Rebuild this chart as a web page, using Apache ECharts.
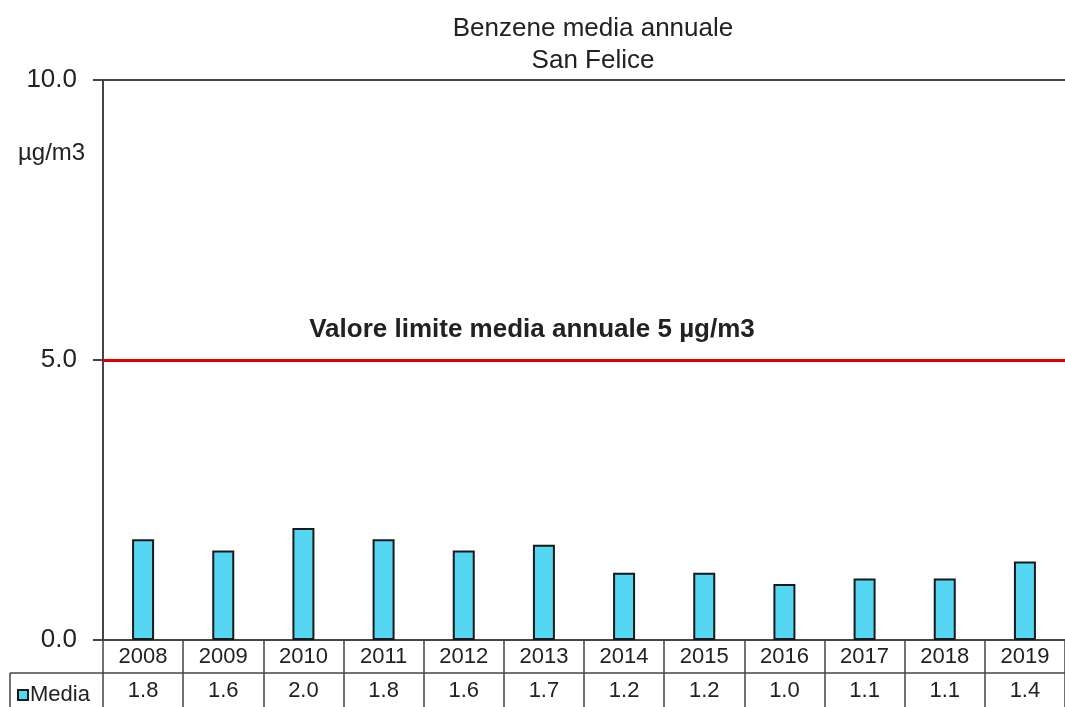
<!DOCTYPE html>
<html>
<head>
<meta charset="utf-8">
<script src="https://cdn.jsdelivr.net/npm/echarts@6/dist/echarts.min.js"></script>
<style>
  html, body { margin: 0; padding: 0; background: #fff; }
  #chart { width: 1065px; height: 707px; }
</style>
</head>
<body>
<div id="chart"></div>
<script>
    'use strict';

    const years = ['2008', '2009', '2010', '2011', '2012', '2013', '2014', '2015', '2016', '2017', '2018', '2019']
    const media = [1.8, 1.6, 2.0, 1.8, 1.6, 1.7, 1.2, 1.2, 1.0, 1.1, 1.1, 1.4]
    const limite = 5
    const yTicks = [0, 5, 10]

    const FONT = '"Liberation Sans", Arial, sans-serif'
    const INK = '#222'
    const AXIS = '#444'

    const myChart = echarts.init(document.getElementById('chart'));

    const option = {
        backgroundColor: '#fff',
        animation: false,
        title: {
            text: 'Benzene media annuale\nSan Felice',
            left: 588,
            textAlign: 'center',
            top: 8,
            textStyle: {
                fontFamily: FONT,
                fontWeight: 'normal',
                fontSize: 26,
                lineHeight: 32,
                color: INK
            }
        },
        legend: {
            data: ['Media'],
            left: 12,
            top: 679,
            itemWidth: 10,
            itemHeight: 10,
            itemGap: 2,
            icon: 'rect',
            textStyle: { fontFamily: FONT, fontSize: 22, color: INK, padding: [0, 0, 0, -3] }
        },
        grid: {
            left: 103,
            right: 0,
            top: 80,
            bottom: 67
        },
        xAxis: [{
            // riga anni
            type: 'category',
            data: years,
            position: 'bottom',
            axisLine: { show: true, lineStyle: { color: AXIS, width: 2 } },
            axisTick: { show: true, inside: false, length: 67, lineStyle: { color: AXIS, width: 1.5 } },
            axisLabel: { fontFamily: FONT, fontSize: 22, color: INK, margin: 6 }
        }, {
            // riga valori
            type: 'category',
            data: media.map(v => v.toFixed(1)),
            position: 'bottom',
            offset: 33,
            axisLine: { show: true, lineStyle: { color: AXIS, width: 1.5 } },
            axisTick: { show: false },
            axisLabel: { fontFamily: FONT, fontSize: 22, color: INK, margin: 7 }
        }, {
            // bordo superiore
            type: 'category',
            data: years,
            position: 'top',
            axisLine: { show: true, lineStyle: { color: AXIS, width: 2 } },
            axisTick: { show: false },
            axisLabel: { show: false }
        }],
        yAxis: [{
            type: 'value',
            min: yTicks[0],
            max: yTicks[yTicks.length - 1],
            interval: 5,
            axisLine: { show: true, lineStyle: { color: AXIS, width: 2 } },
            axisTick: { show: true, length: 10, lineStyle: { color: AXIS, width: 2 } },
            splitLine: { show: false },
            axisLabel: {
                fontFamily: FONT,
                fontSize: 26,
                color: INK,
                margin: 26,
                formatter: v => v.toFixed(1)
            }
        }],
        series: [{
            name: 'Media',
            type: 'bar',
            data: media,
            barWidth: 22,
            itemStyle: {
                color: '#55d6f2',
                borderColor: '#1a1a1a',
                borderWidth: 2
            },
            markLine: {
                symbol: 'none',
                silent: true,
                data: [{ yAxis: limite }],
                lineStyle: { color: '#e00000', width: 3, type: 'solid' },
                label: {
                    show: true,
                    position: 'insideMiddleTop',
                    offset: [-52, -12],
                    formatter: 'Valore limite media annuale 5 µg/m3',
                    fontFamily: FONT,
                    fontWeight: 'bold',
                    fontSize: 26,
                    color: INK
                }
            }
        }],
        graphic: [{
            type: 'text',
            left: 18,
            top: 141,
            style: { text: 'µg/m3', fontFamily: FONT, fontSize: 24, fill: INK }
        }, {
            type: 'line',
            shape: { x1: 10, y1: 673, x2: 103, y2: 673 },
            style: { stroke: AXIS, lineWidth: 1.5 }
        }, {
            type: 'line',
            shape: { x1: 10, y1: 673, x2: 10, y2: 707 },
            style: { stroke: AXIS, lineWidth: 1.5 }
        }]
    };

    myChart.setOption(option);
</script>
</body>
</html>
